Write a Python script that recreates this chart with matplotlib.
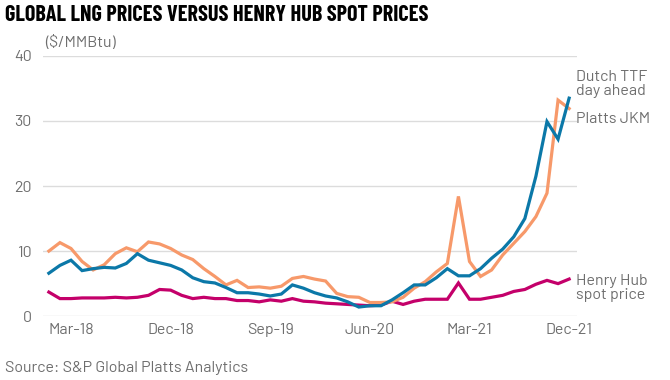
import numpy as np
import matplotlib.pyplot as plt

# Data (monthly, Jan-2018 .. Dec-2021) --------------------------------

months = np.arange(48)
tick_pos = [2, 11, 20, 29, 38, 47]
tick_labels = ['Mar-18', 'Dec-18', 'Sep-19', 'Jun-20', 'Mar-21', 'Dec-21']

jkm = [10.0, 11.3, 10.4, 8.4, 7.1, 7.9, 9.6, 10.5, 9.9, 11.4, 11.1, 10.4,
       9.4, 8.7, 7.3, 6.1, 4.8, 5.5, 4.4, 4.5, 4.3, 4.6, 5.8, 6.1,
       5.7, 5.4, 3.5, 3.0, 2.9, 2.1, 2.1, 2.2, 2.9, 4.3, 5.3, 6.8,
       8.1, 18.4, 8.4, 6.1, 7.1, 9.4, 11.2, 13.0, 15.3, 18.9, 33.2, 31.9]

ttf = [6.6, 7.8, 8.6, 7.0, 7.3, 7.5, 7.4, 8.1, 9.6, 8.6, 8.2, 7.8,
       7.1, 5.9, 5.3, 5.1, 4.4, 3.6, 3.6, 3.4, 3.1, 3.4, 4.8, 4.3,
       3.6, 3.1, 2.8, 2.2, 1.4, 1.6, 1.6, 2.5, 3.6, 4.8, 4.8, 5.9,
       7.3, 6.2, 6.2, 7.3, 8.9, 10.3, 12.2, 15.0, 21.5, 29.9, 27.2, 33.5]

henry_hub = [3.7, 2.7, 2.7, 2.8, 2.8, 2.8, 2.9, 2.8, 2.9, 3.2, 4.1, 4.0,
             3.2, 2.7, 2.9, 2.7, 2.7, 2.4, 2.4, 2.2, 2.5, 2.3, 2.7, 2.3,
             2.2, 2.0, 1.9, 1.8, 1.7, 1.6, 1.7, 2.3, 1.8, 2.3, 2.6, 2.6,
             2.6, 5.1, 2.6, 2.6, 2.9, 3.2, 3.8, 4.1, 4.9, 5.5, 5.0, 5.7]

# Plot ---------------------------------------------------------------

plt.rcParams['font.family'] = ['Barlow', 'Roboto', 'DejaVu Sans']
grey = '#6e6e6e'

fig = plt.figure(figsize=(6.7, 3.8), dpi=100)
ax = fig.add_axes([0.064, 0.168, 0.797, 0.685])

ax.plot(months, henry_hub, c='#c4006a', lw=2.3, solid_joinstyle='miter')
ax.plot(months, jkm, c='#f7996a', lw=2.3, solid_joinstyle='miter')
ax.plot(months, ttf, c='#0b78a8', lw=2.3, solid_joinstyle='miter')

ax.set_ylim(0, 40)
ax.set_xlim(-0.54, 47.7)
ax.set_yticks([0, 10, 20, 30, 40])
ax.set_xticks(tick_pos)
ax.set_xticklabels(tick_labels)
ax.grid(axis='y', color='#dcdcdc', lw=1)
ax.set_axisbelow(True)
for s in ax.spines.values():
    s.set_visible(False)
ax.tick_params(length=0, labelsize=11.5, labelcolor=grey)
ax.tick_params(axis='y', pad=8)
ax.tick_params(axis='x', pad=5)

# Labels at the line ends
ax.text(47.6, 35.7, 'Dutch TTF\nday ahead', fontsize=11.5, color=grey,
        va='center', ha='left', linespacing=1.05)
ax.text(47.6, 30.3, 'Platts JKM', fontsize=11.5, color=grey,
        va='center', ha='left')
ax.text(47.6, 4.3, 'Henry Hub\nspot price', fontsize=11.5, color=grey,
        va='center', ha='left', linespacing=1.0)

fig.text(0.008, 0.96, 'GLOBAL LNG PRICES VERSUS HENRY HUB SPOT PRICES',
         fontsize=16, fontweight='bold', color='black',
         family=['Barlow Condensed', 'DejaVu Sans'], va='center')
fig.text(0.068, 0.888, '($/MMBtu)', fontsize=11.5, color=grey, va='center')
fig.text(0.008, 0.032, 'Source: S&P Global Platts Analytics', fontsize=11.5,
         color=grey, va='center')

fig.savefig('out.png', dpi=100)
